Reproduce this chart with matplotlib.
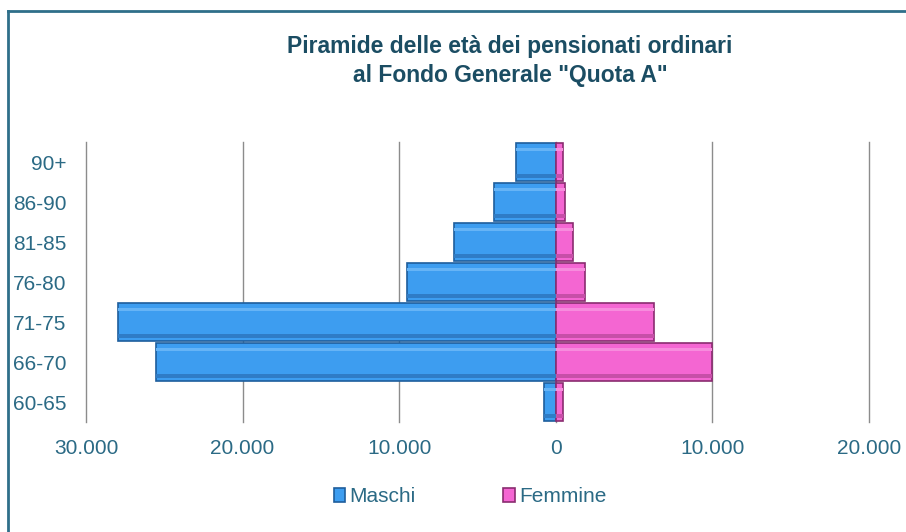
import matplotlib.pyplot as plt
import numpy as np
from matplotlib.ticker import FuncFormatter
from matplotlib.lines import Line2D

# -------data-------
age_groups = ['60-65', '66-70', '71-75', '76-80', '81-85', '86-90', '90+']
maschi = np.array([770, 25500, 27950, 9470, 6520, 3950, 2550])
femmine = np.array([450, 9950, 6250, 1850, 1090, 575, 450])
x_ticks = [-30000, -20000, -10000, 0, 10000, 20000]

# -------style-------
plt.rcParams['font.family'] = ['Liberation Sans', 'DejaVu Sans']
blue = '#3D9DF0'
blue_dark = '#1E5E9C'
pink = '#F466D2'
pink_dark = '#8A2C70'
text_col = '#2B6A85'
title_col = '#1B4D63'
frame_col = '#2F6F8A'
grid_col = '#8C8C8C'

fig = plt.figure(figsize=(9.06, 5.32), dpi=100)
ax = fig.add_axes([86 / 906, 1 - 422 / 532, 783 / 906, 280 / 532])

y = np.arange(len(age_groups))
bar_h = 0.94

ax.barh(y, -maschi, height=bar_h, color=blue, edgecolor=blue_dark, linewidth=1.2, label='Maschi', zorder=3)
ax.barh(y, femmine, height=bar_h, color=pink, edgecolor=pink_dark, linewidth=1.2, label='Femmine', zorder=3)

# bevel highlight / shade strips
ax.barh(y + bar_h * 0.33, -maschi, height=bar_h * 0.10, color='#66B4F6', linewidth=0, zorder=4)
ax.barh(y - bar_h * 0.37, -maschi, height=bar_h * 0.12, color='#2F7CC6', linewidth=0, zorder=4)
ax.barh(y + bar_h * 0.33, femmine, height=bar_h * 0.10, color='#F78CDD', linewidth=0, zorder=4)
ax.barh(y - bar_h * 0.37, femmine, height=bar_h * 0.12, color='#C74FA8', linewidth=0, zorder=4)

ax.set_xlim(-30000, 20000)
ax.set_ylim(-0.5, len(age_groups) - 0.5)
ax.set_xticks(x_ticks)
ax.xaxis.set_major_formatter(FuncFormatter(lambda v, p: f'{abs(int(v)):,}'.replace(',', '.')))
ax.set_yticks(y)
ax.set_yticklabels(age_groups)
ax.tick_params(axis='both', length=0, labelsize=15, colors=text_col)
ax.tick_params(axis='x', pad=12)
ax.tick_params(axis='y', pad=14)
ax.xaxis.grid(True, color=grid_col, linewidth=1, zorder=0)
for gl in ax.get_xgridlines():
    gl.set_clip_on(False)
ax.set_axisbelow(True)
for s in ax.spines.values():
    s.set_visible(False)

fig.text(0.563, 0.885, 'Piramide delle età dei pensionati ordinari\nal Fondo Generale "Quota A"',
         ha='center', va='center', fontsize=16.5, fontweight='bold', color=title_col,
         linespacing=1.35)

leg = fig.legend(loc='center', bbox_to_anchor=(0.519, 0.066), ncol=2, frameon=False,
                 fontsize=15, handlelength=0.55, handleheight=0.6, handletextpad=0.2,
                 columnspacing=4.2, labelcolor=text_col)

# outer frame (top and left edges visible)
fig.add_artist(Line2D([8 / 906, 1], [1 - 11 / 532, 1 - 11 / 532], color=frame_col, linewidth=2))
fig.add_artist(Line2D([8 / 906, 8 / 906], [0, 1 - 11 / 532], color=frame_col, linewidth=2))

plt.savefig('out.png', dpi=100)
